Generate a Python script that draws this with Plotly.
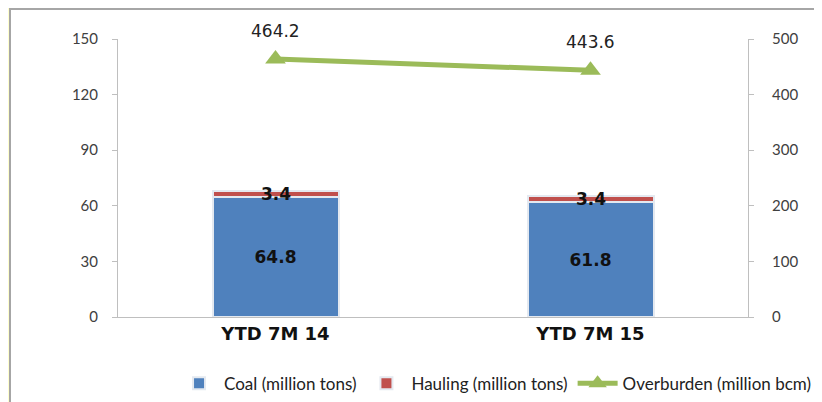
import plotly.graph_objects as go

categories = ["YTD 7M 14", "YTD 7M 15"]
coal = [64.8, 61.8]
hauling = [3.4, 3.4]
overburden = [464.2, 443.6]
left_ticks = [0, 30, 60, 90, 120, 150]
right_ticks = [0, 100, 200, 300, 400, 500]

fig = go.Figure()
fig.add_trace(go.Bar(
    x=categories, y=coal, name="Coal (million tons)",
    marker=dict(color="#4F81BD", line=dict(color="#E4E9F0", width=2)),
    text=[f"{v:.1f}" for v in coal], textposition="inside", insidetextanchor="middle",
    textfont=dict(family="DejaVu Sans", size=17, color="#111111", weight="bold"),
    width=0.4, hoverinfo="skip",
))
fig.add_trace(go.Bar(
    x=categories, y=hauling, name="Hauling (million tons)",
    marker=dict(color="#C0504D", line=dict(color="#E4E9F0", width=2)),
    width=0.4, hoverinfo="skip",
))
fig.add_trace(go.Scatter(
    x=categories, y=overburden, name="Overburden (million bcm)", yaxis="y2",
    mode="lines+markers", cliponaxis=False,
    line=dict(color="#9BBB59", width=5),
    marker=dict(symbol="triangle-up", size=18, color="#9BBB59"),
    hoverinfo="skip",
))

for c, cv, hv in zip(categories, coal, hauling):
    fig.add_annotation(x=c, y=cv + hv / 2, text=f"<b>{hv:.1f}</b>", showarrow=False,
                       font=dict(family="DejaVu Sans", size=17, color="#111111"),
                       xref="x", yref="y")
for c, ov in zip(categories, overburden):
    fig.add_annotation(x=c, y=ov, text=f"{ov:.1f}", showarrow=False, yshift=28,
                       font=dict(family="DejaVu Sans", size=17, color="#222222"),
                       xref="x", yref="y2")

# white panel with grey border over yellow page
fig.add_shape(type="rect", xref="paper", yref="paper",
              x0=(8 - 116) / 630, x1=(835 - 116) / 630,
              y0=(316 - 415) / 278, y1=(316 - 8) / 278,
              fillcolor="white", line=dict(color="#A6A6A6", width=2), layer="below")

fig.update_layout(
    width=822, height=402,
    margin=dict(l=110, r=82, t=31, b=93, autoexpand=False),
    paper_bgcolor="#FFFFCC", plot_bgcolor="rgba(0,0,0,0)",
    barmode="stack", bargap=0.6,
    font=dict(family="Lato", size=15, color="#404040"),
    showlegend=True,
    legend=dict(orientation="h", x=1.108, xanchor="right", y=-0.24, yanchor="middle",
                traceorder="normal",
                font=dict(family="Lato", size=17, color="#222222"),
                bgcolor="rgba(0,0,0,0)", itemwidth=40, tracegroupgap=0),
    xaxis=dict(showline=True, linecolor="#BFBFBF", linewidth=1, ticks="",
               tickfont=dict(family="DejaVu Sans", size=18, color="#111111", weight="bold"),
               showgrid=False, zeroline=False),
    yaxis=dict(range=[0, 150], tickvals=left_ticks, showline=True, linecolor="#BFBFBF",
               ticks="outside", ticklen=5, tickcolor="#BFBFBF", showgrid=False,
               ticklabelstandoff=11,
               zeroline=False, tickfont=dict(family="Lato", size=15, color="#404040")),
    yaxis2=dict(range=[0, 500], tickvals=right_ticks, overlaying="y", side="right",
                showline=True, linecolor="#BFBFBF", ticks="outside", ticklen=5,
                tickcolor="#BFBFBF", showgrid=False, zeroline=False,
                ticklabelstandoff=15,
                tickfont=dict(family="Lato", size=15, color="#404040")),
)
fig.write_html("out.html")
